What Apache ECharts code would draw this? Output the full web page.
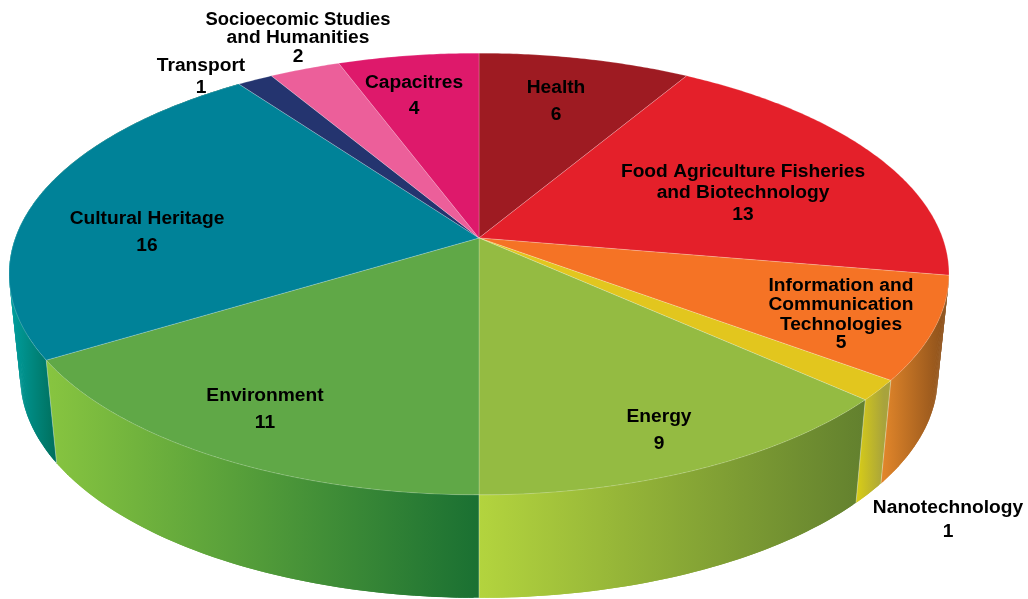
<!DOCTYPE html>
<html>
<head>
<meta charset="utf-8">
<style>html,body{margin:0;padding:0;background:#fff}#c{width:1028px;height:599px}</style>
<script src="https://cdn.jsdelivr.net/npm/echarts@6/dist/echarts.min.js"></script>
</head>
<body>
<div id="c"></div>
<script>
// Data
var categories = ['Health','Food Agriculture Fisheries\nand Biotechnology','Information and\nCommunication\nTechnologies','Nanotechnology','Energy','Environment','Cultural Heritage','Transport','Socioecomic Studies\nand Humanities','Capacitres'];
var values = [6,13,5,1,9,11,16,1,2,4];
// Styles
var topColors = ['#9E1B22','#E4202A','#F57325','#E2C61E','#94BB42','#60A847','#008298','#24346F','#EC5F9A','#DE196B'];
var wallStops = [null,null,['#E0852A','#8A4F1A'],['#D6CB18','#A8A33C'],['#B3D43E','#62802E'],['#88C540','#1A7032'],['#009C9C','#006F5C'],null,null,null];
var wallRanges = [null,null,[884,946],[858,884],[479,866],[46,479],[12,56],null,null,null];
// Label layout: centre x and one middle y per text line
var labelX = [556,743,841,948,659,265,147,201,298,414];
var labelY = [[88,115],[172,193,215],[286,305,325,343],[508,532],[417,444],[396,423],[219,246],[66,88],[20,38,57],[83,109]];
var labelSize = 19.2, narrowLine = 'Socioecomic Studies', narrowSize = 18.4;
// Projection of the pie disc
var apexX = 479, apexY = 238, planX = 463.7, planY = 215, persp = 0.163, topPull = 0.019;
var wallDepth = 103, wallShrink = 0.976;

var total = values.reduce(function(a,b){return a+b;},0);
var cum = [0];
values.forEach(function(v,i){cum.push(cum[i]+v);});
function angle(c){return echarts.number.linearMap(c,[0,total],[0,Math.PI*2]);}
function rim(a){
  var t = a - topPull*Math.sin(a)*(1+Math.cos(a));
  var u = Math.sin(t), v = -Math.cos(t), d = 1 - persp*v;
  return [apexX + planX*u/d, apexY + planY*v/d];
}
function low(t){
  var p = rim(t);
  return [apexX + (p[0]-apexX)*wallShrink, p[1] + wallDepth];
}
function arc(i, f){
  var a = angle(cum[i]), b = angle(cum[i+1]), n = Math.max(4,Math.ceil((b-a)/0.01)), out = [];
  for (var k=0;k<=n;k++) out.push(f(a+(b-a)*k/n));
  return out;
}
var chart = echarts.init(document.getElementById('c'),null,{renderer:'canvas'});
chart.setOption({
  animation:false,
  backgroundColor:'#fff',
  series:[
    {type:'custom',coordinateSystem:'none',z:1,silent:true,data:values,
     renderItem:function(p,api){
       var i=p.dataIndex;
       if(!wallStops[i]) return {type:'group',children:[]};
       var top=arc(i,rim), bot=arc(i,low);
       var t0=angle(cum[i]);
       var fill={type:'linear',x:wallRanges[i][0],y:0,x2:wallRanges[i][1],y2:0,global:true,
           colorStops:[{offset:0,color:wallStops[i][0]},{offset:1,color:wallStops[i][1]}]};
       var kids=[];
       for(var k=0;k<top.length-1;k++){
         var e=Math.min(k+2,top.length-1);
         kids.push({type:'polygon',shape:{points:[top[k],top[e],bot[e],bot[k]]},style:{fill:fill}});
       }
       if(-Math.cos(t0)>0.3){
         var a=rim(t0),b=low(t0);
         kids.push({type:'line',z2:5,shape:{x1:a[0],y1:a[1],x2:b[0],y2:b[1]},style:{stroke:'rgba(255,255,255,0.45)',lineWidth:0.8}});
       }
       return {type:'group',children:kids};
     }},
    {type:'custom',coordinateSystem:'none',z:2,silent:true,data:values,
     renderItem:function(p,api){
       var i=p.dataIndex;
       return {type:'polygon',shape:{points:[[apexX,apexY]].concat(arc(i,rim))},
         style:{fill:topColors[i],stroke:'rgba(255,255,255,0.3)',lineWidth:0.7}};
     }},
    {type:'custom',coordinateSystem:'none',z:3,silent:true,data:values,
     renderItem:function(p,api){
       var i=p.dataIndex;
       var lines=categories[i].split('\n').concat([String(values[i])]);
       return {type:'group',children:lines.map(function(s,k){
         var size = s===narrowLine ? narrowSize : labelSize;
         return {type:'text',style:{text:s,x:labelX[i],y:labelY[i][k],align:'center',verticalAlign:'middle',
           font:'bold '+size+'px "Liberation Sans", Arial, sans-serif',fill:'#000'}};
       })};
     }}
  ]
});
</script>
</body>
</html>
